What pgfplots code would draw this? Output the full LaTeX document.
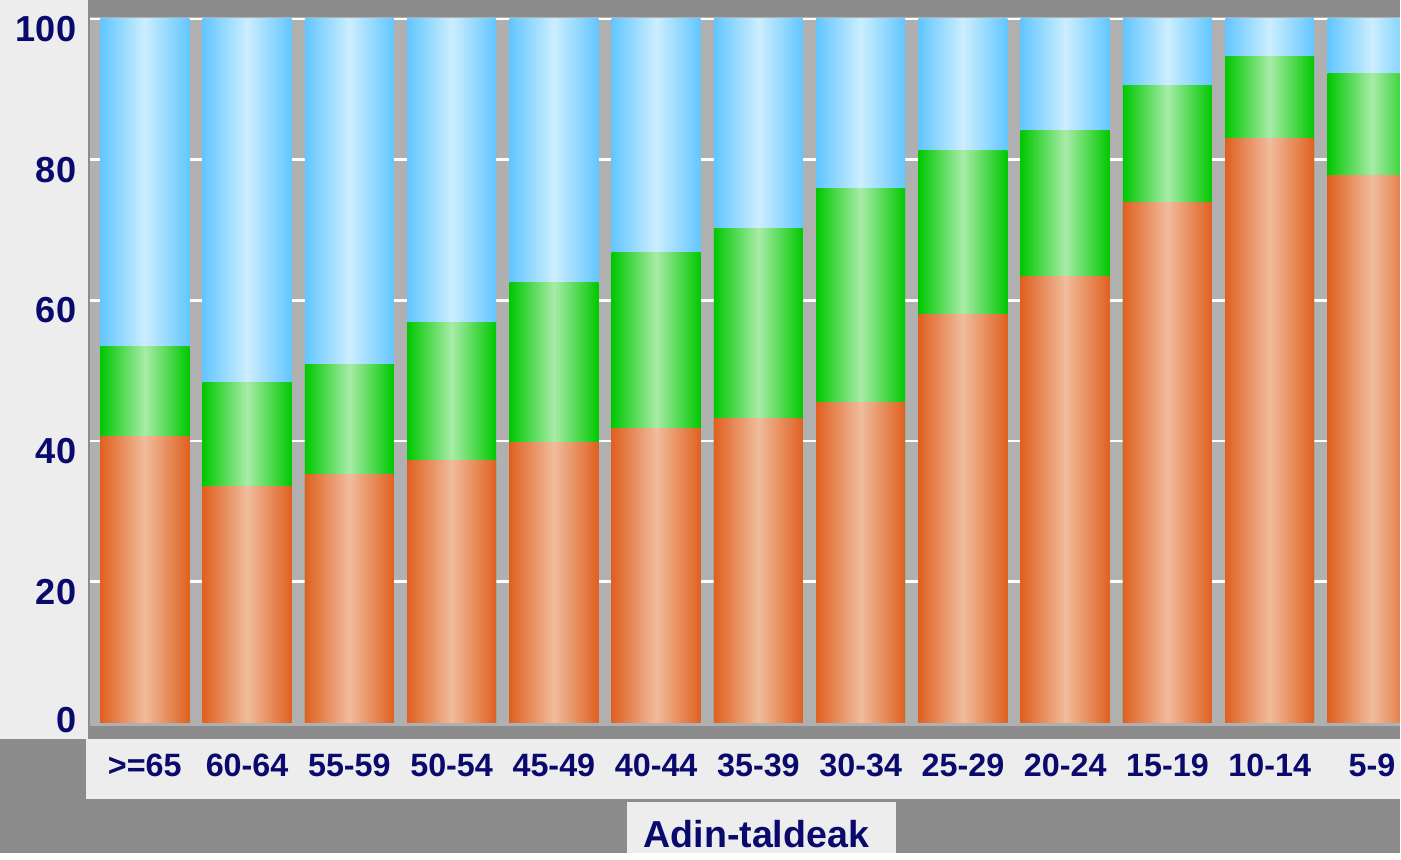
\documentclass[border=0pt]{standalone}
\usepackage{fontspec}
\setmainfont{Liberation Sans}
\usepackage{pgfplots}
\usepackage{pgfplotstable}
\pgfplotsset{compat=1.18}
\definecolor{navy}{HTML}{0A0A6E}
\definecolor{chk}{HTML}{8C8C8C}
\definecolor{paper}{HTML}{EDEDED}
\definecolor{plotgray}{HTML}{B0B0B0}
\definecolor{oD}{HTML}{E06020}
\definecolor{oL}{HTML}{F0BC9C}
\definecolor{gD}{HTML}{00C800}
\definecolor{gL}{HTML}{A8ECA8}
\definecolor{bD}{HTML}{62C6FF}
\definecolor{bL}{HTML}{CCEEFF}

% x, orange share, top of green (orange+green), top of blue
\pgfplotstableread{
x  o     g     t
0  40.6  53.4  100
1  33.5  48.3  100
2  35.2  50.9  100
3  37.2  56.8  100
4  39.8  62.5  100
5  41.8  66.8  100
6  43.2  70.2  100
7  45.5  75.9  100
8  58.0  81.3  100
9  63.4  84.1  100
10 73.9  90.6  100
11 83.0  94.7  100
12 77.8  92.2  100
}\shares

\tikzset{
  bar/.style n args={2}{ybar, bar width=0.87, bar shift=0pt, draw=none,
    left color=#1, right color=#1, middle color=#2},
}

\begin{document}
\begin{tikzpicture}
% background regions (1 px = 0.01 cm)
\fill[chk] (0,0) rectangle (14.01,8.54);
\fill[paper] (0,1.14) rectangle (0.88,8.54);
\fill[paper] (0.86,0.54) rectangle (14.01,1.14);
\fill[paper] (6.28,0) rectangle (8.97,0.51);
\fill[plotgray] (0.90,1.27) rectangle (14.01,8.37);

\begin{axis}[
  at={(0.90cm,1.31cm)}, anchor=south west,
  scale only axis, width=13.11cm, height=7.04cm,
  xmin=-0.537, xmax=12.27, ymin=0, ymax=100,
  axis line style={draw=none}, major tick length=0pt,
  ymajorgrids, grid style={white, line width=0.8pt},
  /pgf/number format/assume math mode=true,
  ytick={20,40,...,100},
  extra y ticks={0}, extra y tick style={grid=none, yticklabel style={yshift=0.12cm}},
  yticklabel style={font=\bfseries\fontsize{10.3}{12}\selectfont, text=navy,
    anchor=east, inner sep=0pt, xshift=-0.13cm, yshift=-0.1cm},
  xtick={0,...,12},
  xticklabels={>=65,60-64,55-59,50-54,45-49,40-44,35-39,30-34,25-29,20-24,15-19,10-14,5-9},
  xticklabel style={font=\bfseries\fontsize{9.2}{11}\selectfont, text=navy,
    anchor=center, inner sep=0pt, yshift=-0.43cm},
  clip=true,
]
\pgfplotsinvokeforeach{0,...,12}{
  \addplot[bar={bD}{bL}] table[x=x, y=t,
    restrict expr to domain={\coordindex}{#1:#1}] {\shares};
  \addplot[bar={gD}{gL}] table[x=x, y=g,
    restrict expr to domain={\coordindex}{#1:#1}] {\shares};
  \addplot[bar={oD}{oL}] table[x=x, y=o,
    restrict expr to domain={\coordindex}{#1:#1}] {\shares};
}
\end{axis}

\node[font=\bfseries\fontsize{10.7}{13}\selectfont, text=navy] at (7.57,0.19) {Adin-taldeak};
\path[use as bounding box] (0,0) rectangle (14.01,8.54);
\end{tikzpicture}
\end{document}
